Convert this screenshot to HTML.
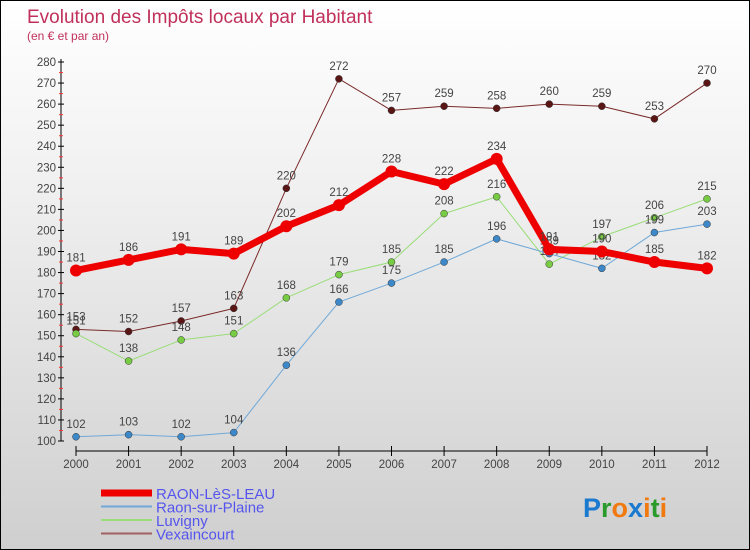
<!DOCTYPE html>
<html><head><meta charset="utf-8"><style>
body{margin:0}
#c{width:748px;height:548px;border:1px solid #000;background:linear-gradient(#fff,#f2f2f2 30%,#cfcfcf);position:relative;overflow:hidden;font-family:"Liberation Sans",sans-serif}
svg text{font-family:"Liberation Sans",sans-serif}
</style></head><body>
<div id="c">
<svg id="s" width="748" height="548">
<text x="26" y="22" font-size="19" fill="#c0305a">Evolution des Impôts locaux par Habitant</text>
<text x="26" y="39" font-size="12" fill="#c0305a">(en € et par an)</text>
</svg>
</div>
<script>
const years=[2000,2001,2002,2003,2004,2005,2006,2007,2008,2009,2010,2011,2012];
const yTicks=[100,110,120,130,140,150,160,170,180,190,200,210,220,230,240,250,260,270,280];
const raon=[181,186,191,189,202,212,228,222,234,191,190,185,182];
const raonPlaine=[102,103,102,104,136,166,175,185,196,189,182,199,203];
const luvigny=[151,138,148,151,168,179,185,208,216,184,197,206,215];
const vexain=[153,152,157,163,220,272,257,259,258,260,259,253,270];
const series=[
 {name:'Vexaincourt',vals:vexain,color:'#7a2a2a',dot:'#5a1515',w:1,r:3.5,id:'vexaincourt'},
 {name:'Luvigny',vals:luvigny,color:'#99dd77',dot:'#77cc44',w:1,r:3.5,id:'luvigny'},
 {name:'Raon-sur-Plaine',vals:raonPlaine,color:'#6fa8d8',dot:'#3d88c8',w:1,r:3.5,id:'raon-sur-plaine'},
 {name:'RAON-LèS-LEAU',vals:raon,color:'#ee0000',dot:'#ee0000',w:7,r:6,id:'raon-les-leau'}
];
const s=document.getElementById('s');const NS='http://www.w3.org/2000/svg';
function X(i){return 75+i*(706-75)/12}
function Y(v){return 440-(v-100)*(440-61)/180}
function el(t,a,txt){const e=document.createElementNS(NS,t);for(const k in a)e.setAttribute(k,a[k]);if(txt!==undefined)e.textContent=txt;s.appendChild(e);return e}
let e=el('line',{x1:60,y1:58,x2:60,y2:440,stroke:'#000'});


e=el('line',{x1:75,y1:450,x2:706,y2:450,stroke:'#000'});


yTicks.forEach(v=>{const y=Y(v);
 el('line',{x1:57,y1:y,x2:63,y2:y,stroke:'#000'});
 if(v<280){const r=el('line',{x1:58,y1:y-10.5,x2:62,y2:y-10.5,stroke:'#f33'});}
 const t=el('text',{x:55,y:y+4,'font-size':11.5,fill:'#444','text-anchor':'end'},v);
 
 
});
years.forEach((yr,i)=>{const x=X(i);
 el('line',{x1:x,y1:445,x2:x,y2:455,stroke:'#000'});
 const t=el('text',{x:x,y:467,'font-size':11.5,fill:'#444','text-anchor':'middle'},yr);
 
 
});
series.forEach(sr=>{
 const p=el('polyline',{points:sr.vals.map((v,i)=>X(i)+','+Y(v)).join(' '),fill:'none',stroke:sr.color,'stroke-width':sr.w,'stroke-linejoin':'round'});
 
 
 sr.vals.forEach((v,i)=>{
  const c=el('circle',{cx:X(i),cy:Y(v),r:sr.r,fill:sr.dot,stroke:sr.w>1?'none':'#333','stroke-width':0.5});
  
  
  const t=el('text',{x:X(i),y:Y(v)-9,'font-size':11.5,fill:'#444','text-anchor':'middle'},v);
  
  
 });
});
const leg=[['RAON-LèS-LEAU','#ee0000',7],['Raon-sur-Plaine','#6fa8d8',2],['Luvigny','#99dd77',2],['Vexaincourt','#a06060',2]];
leg.forEach((l,i)=>{const y=492+i*13.5;
 el('line',{x1:100,y1:y,x2:151,y2:y,stroke:l[1],'stroke-width':l[2]});
 const t=el('text',{x:155,y:y+6,'font-size':15,fill:'#5555ee'},l[0]);
 
 
});
const logo=el('text',{x:582,y:516,'font-size':27,'font-weight':'bold'});


[['P','#1a7ad0'],['r','#2a9a2a'],['o','#f07a10'],['x','#1a7ad0'],['i','#f07a10'],['t','#2a9a2a'],['i','#f07a10']].forEach(c=>{const ts=document.createElementNS(NS,'tspan');ts.setAttribute('fill',c[1]);ts.textContent=c[0];logo.appendChild(ts);});
</script>
</body></html>
